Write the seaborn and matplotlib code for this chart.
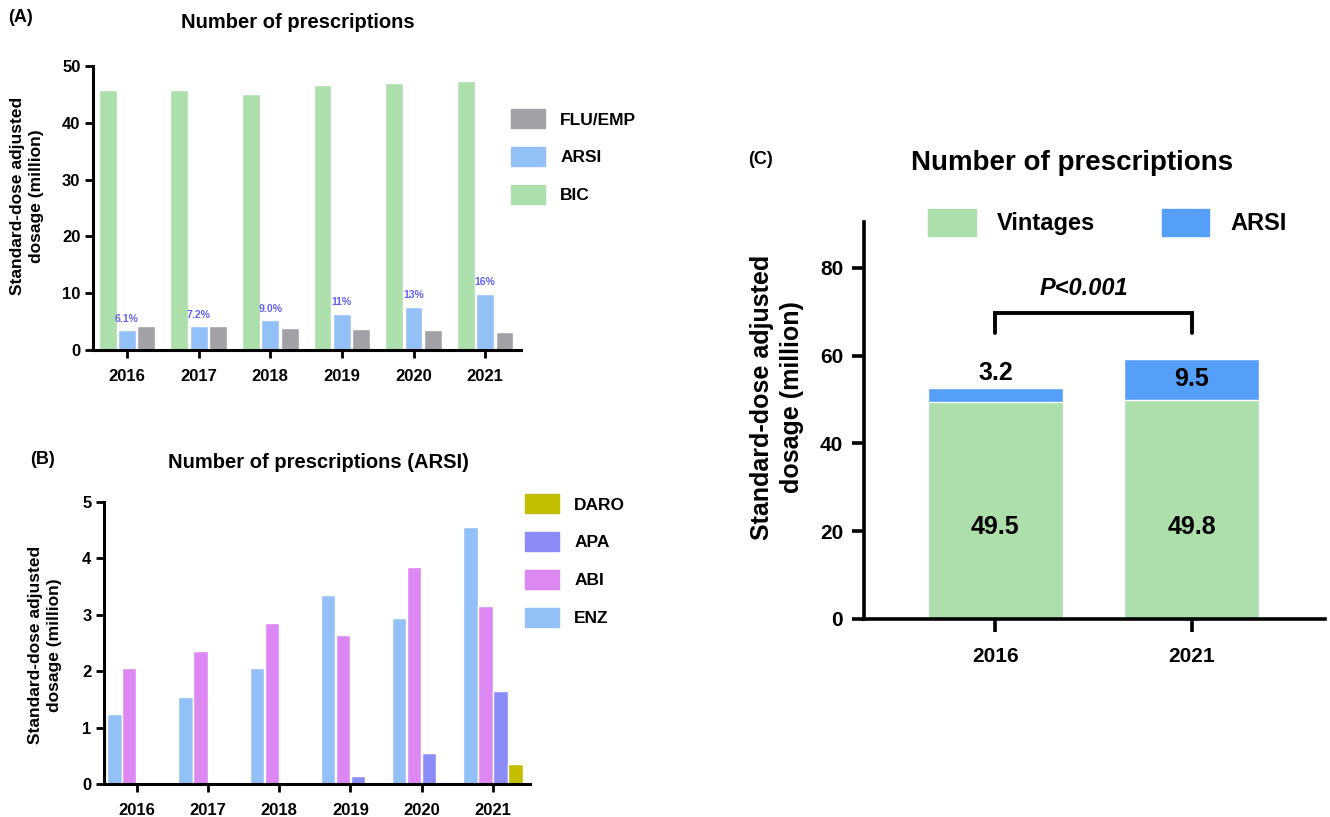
import matplotlib
matplotlib.use("Agg")
import matplotlib.pyplot as plt
from matplotlib.patches import Patch
import pandas as pd
import seaborn as sns

# ---- data -------------------------------------------------------------
years = ["2016", "2017", "2018", "2019", "2020", "2021"]

# (A) all prescriptions, million standard doses
bic = [45.8, 45.8, 45.1, 46.7, 47.0, 47.4]
arsi = [3.5, 4.2, 5.2, 6.4, 7.6, 9.9]
flu_emp = [4.3, 4.2, 3.9, 3.7, 3.5, 3.1]
arsi_share = ["6.1%", "7.2%", "9.0%", "11%", "13%", "16%"]

# (B) ARSI prescriptions by drug
enz = [1.25, 1.55, 2.05, 3.35, 2.95, 4.55]
abi = [2.05, 2.35, 2.85, 2.65, 3.85, 3.15]
apa = [0.0, 0.0, 0.0, 0.15, 0.55, 1.65]
daro = [0.0, 0.0, 0.0, 0.0, 0.0, 0.35]

# (C) vintage agents vs ARSI
c_years = ["2016", "2021"]
vintages = [49.5, 49.8]
arsi_c = [3.2, 9.5]
p_label = "P<0.001"

# ---- style ------------------------------------------------------------
sns.set_style("ticks")
plt.rcParams["font.family"] = ["Liberation Sans", "DejaVu Sans"]
plt.rcParams["font.weight"] = "bold"
plt.rcParams["axes.labelweight"] = "bold"
for key in ("text.color", "axes.labelcolor", "xtick.color", "ytick.color",
            "axes.edgecolor"):
    plt.rcParams[key] = "black"

GREEN = "#ADDFAD"
LBLUE = "#93C1F7"
GRAY = "#A2A1A6"
PINK = "#DD88F2"
VIOLET = "#8C8CF9"
OLIVE = "#C4BE00"
BLUE = "#559FF8"
PCT = "#6363F2"

W, H = 1330, 817
fig = plt.figure(figsize=(W / 100, H / 100), dpi=100)


def box(x0, y0, x1, y1):
    """pixel box (left, top, right, bottom) -> figure fraction rect"""
    return [x0 / W, 1 - y1 / H, (x1 - x0) / W, (y1 - y0) / H]


def fx(x):
    return x / W


def fy(y):
    return 1 - y / H


def style_axis(ax, lw, tlen, twid, lsize, xpad, ypad):
    sns.despine(ax=ax)
    for s in ("left", "bottom"):
        ax.spines[s].set_linewidth(lw)
        ax.spines[s].set_color("black")
    ax.tick_params(axis="both", direction="out", length=tlen, width=twid,
                   color="black", labelcolor="black", labelsize=lsize)
    ax.tick_params(axis="x", pad=xpad)
    ax.tick_params(axis="y", pad=ypad)
    for lab in ax.get_xticklabels() + ax.get_yticklabels():
        lab.set_fontweight("bold")
    ax.set_xlabel("")
    ax.set_ylabel("")


ylab = "Standard-dose adjusted\ndosage (million)"

# ---- (A) --------------------------------------------------------------
dfA = pd.DataFrame({
    "year": years * 3,
    "drug": ["BIC"] * 6 + ["ARSI"] * 6 + ["FLU/EMP"] * 6,
    "value": bic + arsi + flu_emp,
})
axA = fig.add_axes(box(93, 66, 521, 350))
sns.barplot(data=dfA, x="year", y="value", hue="drug",
            hue_order=["BIC", "ARSI", "FLU/EMP"],
            palette=[GREEN, LBLUE, GRAY], saturation=1,
            width=0.81, gap=0.08, legend=False, ax=axA)
axA.set_xlim(-0.475, 5.5)
axA.set_ylim(0, 50)
axA.set_yticks([0, 10, 20, 30, 40, 50])
style_axis(axA, 2.2, 6, 2, 12, 8, 3)
for rect, share, v in zip(axA.containers[1], arsi_share, arsi):
    axA.text(rect.get_x() + rect.get_width() / 2, v + 2.0, share,
             ha="center", va="center", fontsize=7.6, color=PCT,
             fontweight="bold")
axA.legend(handles=[Patch(color=GRAY, label="FLU/EMP"),
                    Patch(color=LBLUE, label="ARSI"),
                    Patch(color=GREEN, label="BIC")],
           loc="upper left", bbox_to_anchor=(fx(511), fy(109)),
           bbox_transform=fig.transFigure, frameon=False,
           prop={"size": 12.5, "weight": "bold"},
           handlelength=1.98, handleheight=1.35, labelspacing=1.06,
           handletextpad=0.86, borderpad=0, borderaxespad=0)
fig.text(fx(27), fy(196), ylab, rotation=90, ha="center", va="center",
         fontsize=12.5, fontweight="bold", multialignment="center",
         linespacing=1.25)
fig.text(fx(298), fy(22), "Number of prescriptions", ha="center",
         va="center", fontsize=14.5, fontweight="bold")
fig.text(fx(8), fy(18), "(A)", ha="left", va="center", fontsize=13,
         fontweight="bold")

# ---- (B) --------------------------------------------------------------
dfB = pd.DataFrame({
    "year": years * 4,
    "drug": ["ENZ"] * 6 + ["ABI"] * 6 + ["APA"] * 6 + ["DARO"] * 6,
    "value": enz + abi + apa + daro,
})
axB = fig.add_axes(box(104, 502, 530, 784))
sns.barplot(data=dfB, x="year", y="value", hue="drug",
            hue_order=["ENZ", "ABI", "APA", "DARO"],
            palette=[LBLUE, PINK, VIOLET, OLIVE], saturation=1,
            width=0.84, gap=0.04, legend=False, ax=axB)
axB.set_xlim(-0.46, 5.52)
axB.set_ylim(0, 5)
axB.set_yticks([0, 1, 2, 3, 4, 5])
style_axis(axB, 2.2, 6, 2, 12, 8, 3)
axB.legend(handles=[Patch(color=OLIVE, label="DARO"),
                    Patch(color=VIOLET, label="APA"),
                    Patch(color=PINK, label="ABI"),
                    Patch(color=LBLUE, label="ENZ")],
           loc="upper left", bbox_to_anchor=(fx(525), fy(494)),
           bbox_transform=fig.transFigure, frameon=False,
           prop={"size": 12.5, "weight": "bold"},
           handlelength=1.98, handleheight=1.35, labelspacing=1.06,
           handletextpad=0.86, borderpad=0, borderaxespad=0)
fig.text(fx(45), fy(645), ylab, rotation=90, ha="center", va="center",
         fontsize=12.5, fontweight="bold", multialignment="center",
         linespacing=1.25)
fig.text(fx(318), fy(463), "Number of prescriptions (ARSI)", ha="center",
         va="center", fontsize=14.5, fontweight="bold")
fig.text(fx(30), fy(460), "(B)", ha="left", va="center", fontsize=13,
         fontweight="bold")

# ---- (C) --------------------------------------------------------------
totals = [v + a for v, a in zip(vintages, arsi_c)]
dfC_total = pd.DataFrame({"year": c_years, "value": totals})
dfC_vint = pd.DataFrame({"year": c_years, "value": vintages})
axC = fig.add_axes(box(864, 222, 1325, 619))
sns.barplot(data=dfC_total, x="year", y="value", color=BLUE, saturation=1,
            width=0.69, ax=axC)
sns.barplot(data=dfC_vint, x="year", y="value", color=GREEN, saturation=1,
            width=0.69, ax=axC)
axC.set_xlim(-0.67, 1.68)
axC.set_ylim(0, 90.4)
axC.set_yticks([0, 20, 40, 60, 80])
style_axis(axC, 2.6, 9, 2.6, 15, 11, 6)

for i, (v, a) in enumerate(zip(vintages, arsi_c)):
    axC.text(i, 21, f"{v:.1f}", ha="center", va="center", fontsize=18,
             fontweight="bold")
    if a < 5:
        axC.text(i, v + a + 0.6, f"{a:.1f}", ha="center", va="bottom",
                 fontsize=18, fontweight="bold")
    else:
        axC.text(i, v + a / 2, f"{a:.1f}", ha="center", va="center",
                 fontsize=18, fontweight="bold")

# significance bracket between the two years
axC.plot([0, 0, 1, 1], [65.2, 69.6, 69.6, 65.2], color="black", lw=2.8,
         solid_joinstyle="miter", clip_on=False)
axC.text(0.45, 75.3, p_label, ha="center", va="center", fontsize=17,
         fontweight="bold", fontstyle="italic")

fig.legend(handles=[Patch(color=GREEN, label="Vintages"),
                    Patch(color=BLUE, label="ARSI")],
           loc="upper left", bbox_to_anchor=(fx(928), fy(209)),
           frameon=False, ncol=2, prop={"size": 17, "weight": "bold"},
           handlelength=2.03, handleheight=1.38, handletextpad=0.9,
           columnspacing=2.8, borderpad=0, borderaxespad=0)
fig.text(fx(777), fy(397), ylab, rotation=90, ha="center", va="center",
         fontsize=18, fontweight="bold", multialignment="center",
         linespacing=1.35)
fig.text(fx(1072), fy(163), "Number of prescriptions", ha="center",
         va="center", fontsize=20, fontweight="bold")
fig.text(fx(748), fy(160), "(C)", ha="left", va="center", fontsize=13,
         fontweight="bold")

fig.savefig("out.png", dpi=100)
